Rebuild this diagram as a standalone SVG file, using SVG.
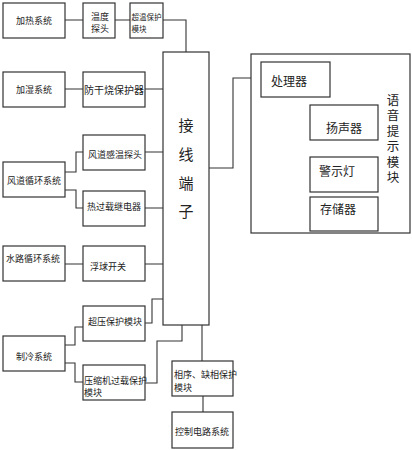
<svg xmlns="http://www.w3.org/2000/svg" width="412" height="450" viewBox="0 0 412 450">
<style>
rect{fill:#fff;stroke:#333;stroke-width:1.2}
.c path{fill:none;stroke:#333;stroke-width:1.1}
text{font-family:"Noto Sans CJK SC","Noto Sans",sans-serif;fill:#222;dominant-baseline:central}
.xs{font-size:7.5px}
.s{font-size:9px}
.m{font-size:10px}
.l{font-size:12px}
.v{font-size:12.5px;writing-mode:vertical-rl;letter-spacing:3px}
.t{font-size:15px}
</style>
<rect x="0" y="0" width="412" height="450" style="fill:#fff;stroke:none"/>
<g class="c">
<path d="M65 20H83M115 20H130M163 20H186V52"/>
<path d="M65 89H83M145 89H163"/>
<path d="M65 172H76V152H83M65 190H76V208H83M145 152H163M145 208H163"/>
<path d="M65 264H83M145 264H163"/>
<path d="M65 345H75V327H83M65 363H75V382H83"/>
<path d="M145 323H152V299H163M145 383H157V341H182V325"/>
<path d="M202 325V361M203 396V412"/>
<path d="M209 168H233V78H261"/>
<path d="M283 97V214M283 131H310M283 175H310M283 214H310"/>
</g>
<g id="heating"><rect x="3" y="3" width="62" height="35"/><text class="s" x="34" y="20.500" text-anchor="middle">加热系统</text></g>
<g id="temp-probe"><rect x="83" y="3" width="32" height="35"/><text class="s" x="91" y="16">温度</text><text class="s" x="91" y="28">探头</text></g>
<g id="overtemp"><rect x="130" y="3" width="33" height="35"/><text class="xs" x="131.500" y="16">超温保护</text><text class="xs" x="131.500" y="28">模块</text></g>
<g id="humidify"><rect x="3" y="72" width="62" height="35"/><text class="s" x="34" y="89.500" text-anchor="middle">加湿系统</text></g>
<g id="dryburn"><rect x="83" y="72" width="62" height="35"/><text class="m" x="114" y="89.500" text-anchor="middle">防干烧保护器</text></g>
<g id="terminal"><rect x="163" y="52" width="46" height="273"/>
<text class="t" x="186" y="124" text-anchor="middle">接</text><text class="t" x="186" y="153" text-anchor="middle">线</text><text class="t" x="186" y="182" text-anchor="middle">端</text><text class="t" x="186" y="210" text-anchor="middle">子</text></g>
<g id="duct"><rect x="3" y="162" width="62" height="35"/><text class="s" x="34" y="180" text-anchor="middle">风道循环系统</text></g>
<g id="duct-probe"><rect x="83" y="135" width="62" height="35"/><text class="s" x="115" y="154" text-anchor="middle">风道感温探头</text></g>
<g id="thermal-relay"><rect x="83" y="191" width="62" height="35"/><text class="s" x="114" y="206" text-anchor="middle">热过载继电器</text></g>
<g id="water"><rect x="3" y="246" width="62" height="35"/><text class="s" x="33" y="258" text-anchor="middle">水路循环系统</text></g>
<g id="float"><rect x="83" y="246" width="62" height="35"/><text class="s" x="108" y="266" text-anchor="middle">浮球开关</text></g>
<g id="overpressure"><rect x="83" y="306" width="62" height="35"/><text class="s" x="115" y="321" text-anchor="middle">超压保护模块</text></g>
<g id="cooling"><rect x="3" y="336" width="62" height="35"/><text class="s" x="34" y="356" text-anchor="middle">制冷系统</text></g>
<g id="compressor"><rect x="83" y="365" width="62" height="35"/><text class="s" x="84" y="380">压缩机过载保护</text><text class="s" x="84" y="392">模块</text></g>
<g id="phase"><rect x="172" y="361" width="61" height="35"/><text class="s" x="174" y="374">相序、缺相保护</text><text class="s" x="174" y="387">模块</text></g>
<g id="control"><rect x="172" y="412" width="61" height="36"/><text class="s" x="202" y="431" text-anchor="middle">控制电路系统</text></g>
<g id="voice"><rect x="251" y="54" width="159" height="179"/>
<text class="v" x="393" y="93.500">语音提示模块</text></g>
<g id="processor"><rect x="261" y="62" width="69" height="35"/><text class="l" x="289" y="80" text-anchor="middle">处理器</text></g>
<g id="speaker"><rect x="310" y="105" width="68" height="35"/><text class="l" x="344" y="127" text-anchor="middle">扬声器</text></g>
<g id="warning"><rect x="310" y="157" width="68" height="35"/><text class="l" x="337" y="170" text-anchor="middle">警示灯</text></g>
<g id="storage"><rect x="310" y="197" width="68" height="34"/><text class="l" x="338" y="208" text-anchor="middle">存储器</text></g>
</svg>
